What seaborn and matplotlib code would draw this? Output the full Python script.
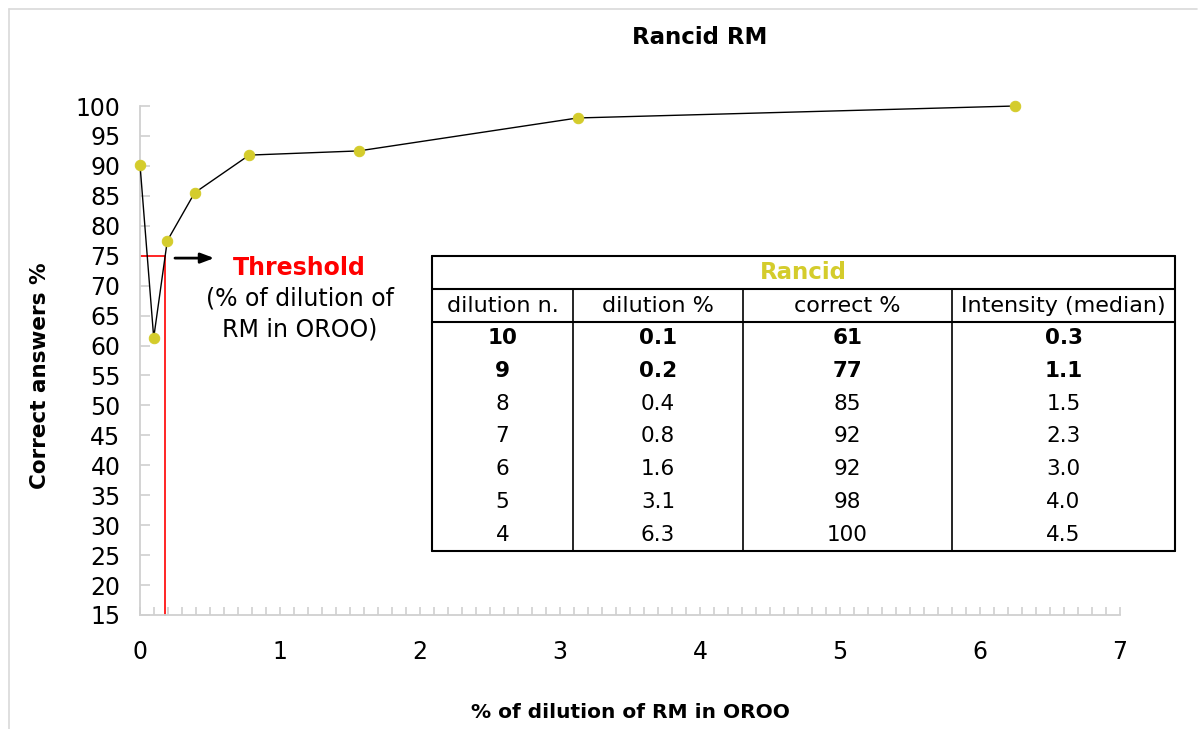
"""
Rancid RM - correct answers vs dilution
"""
import matplotlib
matplotlib.use("Agg")
import matplotlib.pyplot as plt
from matplotlib.lines import Line2D
import pandas as pd
import seaborn as sns

# Curve data
dilution_x = [0, 0.098, 0.195, 0.39, 0.78, 1.5625, 3.125, 6.25]
correct_y = [90.2, 61.3, 77.5, 85.5, 91.8, 92.5, 98, 100]

# Threshold
threshold_y = 75
threshold_x = 0.18

# Table data
table_title = "Rancid"
table_header = ["dilution n.", "dilution %", "correct %", "Intensity (median)"]
dilution_n = ["10", "9", "8", "7", "6", "5", "4"]
dilution_pct = ["0.1", "0.2", "0.4", "0.8", "1.6", "3.1", "6.3"]
correct_pct = ["61", "77", "85", "92", "92", "98", "100"]
intensity = ["0.3", "1.1", "1.5", "2.3", "3.0", "4.0", "4.5"]
bold_rows = 2

W, H = 1198, 729
MARKER = "#d4cc2c"
GRID = "#d0d0d0"

sns.set_style("white")
plt.rcParams['font.family'] = ['DejaVu Sans']
plt.rcParams['text.color'] = 'black'
plt.rcParams['axes.labelcolor'] = 'black'
plt.rcParams['xtick.color'] = 'black'
plt.rcParams['ytick.color'] = 'black'

fig = plt.figure(figsize=(W / 100, H / 100), dpi=100)


def fx(px):
    return px / W


def fy(py):
    return 1 - py / H


ax = fig.add_axes([fx(140), fy(615), fx(1120) - fx(140), fy(106) - fy(615)])

df = pd.DataFrame({"x": dilution_x, "y": correct_y})
sns.lineplot(data=df, x="x", y="y", ax=ax, color="black", linewidth=1,
             marker="o", markersize=7.5, markerfacecolor=MARKER,
             markeredgecolor=MARKER, sort=False, zorder=3, clip_on=False)

ax.set_xlim(0, 7)
ax.set_ylim(15, 100)
ax.set_xticks(range(0, 8))
ax.set_xticks([i / 10 for i in range(0, 71) if i % 10], minor=True)
ax.set_yticks(range(15, 101, 5))
ax.tick_params(axis="both", which="both", labelsize=17, color=GRID,
               labelcolor="black")
ax.tick_params(axis="x", which="both", direction="in", length=6, bottom=True,
               width=1.2)
ax.tick_params(axis="x", which="major", pad=18)
ax.tick_params(axis="y", direction="in", length=7, left=True, pad=14, width=1.2)
for side in ["top", "right"]:
    ax.spines[side].set_visible(False)
for side in ["left", "bottom"]:
    ax.spines[side].set_color(GRID)
    ax.spines[side].set_linewidth(1.3)
ax.set_xlabel("")
ax.set_ylabel("")

# threshold lines
ax.plot([0, threshold_x], [threshold_y, threshold_y], color="red", linewidth=1.2, zorder=2)
ax.plot([threshold_x, threshold_x], [15, threshold_y], color="red", linewidth=1.2,
        zorder=2, clip_on=False)
ax.annotate("", xy=(0.55, 74.6), xytext=(0.23, 74.6),
            arrowprops=dict(arrowstyle="-|>,head_length=0.8,head_width=0.3",
                            color="black", lw=2))
ax.text(0.66, 73.0, "Threshold", color="red", fontsize=17, fontweight="bold",
        ha="left", va="center")
ax.text(1.14, 69.8, "(% of dilution of\nRM in OROO)", fontsize=17,
        ha="center", va="top", linespacing=1.35)

# titles
fig.text(fx(700), fy(37), "Rancid RM", fontsize=16.5, fontweight="bold",
         ha="center", va="center")
fig.text(fx(630), fy(712), "% of dilution of RM in OROO", fontsize=14.5,
         fontweight="bold", ha="center", va="center")
fig.text(fx(40), fy(376), "Correct answers %", fontsize=15.5, fontweight="bold",
         ha="center", va="center", rotation=90)

# table
tl, tr = 432, 1175
tt, tb = 256, 551
col_edges = [432, 573, 743, 952, 1175]
y_title_bottom = 289
y_head_bottom = 322
row_h = (tb - y_head_bottom) / len(dilution_n)


def hline(py, x0, x1, lw):
    fig.add_artist(Line2D([fx(x0), fx(x1)], [fy(py), fy(py)], color="black",
                          linewidth=lw, transform=fig.transFigure))


def vline(px, y0, y1, lw):
    fig.add_artist(Line2D([fx(px), fx(px)], [fy(y0), fy(y1)], color="black",
                          linewidth=lw, transform=fig.transFigure))


hline(tt, tl, tr, 1.5)
hline(tb, tl, tr, 1.5)
hline(y_title_bottom, tl, tr, 1.5)
hline(y_head_bottom, tl, tr, 1.5)
vline(tl, tt, tb, 1.5)
vline(tr, tt, tb, 1.5)
for cx in col_edges[1:-1]:
    vline(cx, y_title_bottom, tb, 1.2)

fig.text(fx((tl + tr) / 2), fy((tt + y_title_bottom) / 2), table_title,
         color=MARKER, fontsize=16.5, fontweight="bold", ha="center", va="center")
centers = [(col_edges[i] + col_edges[i + 1]) / 2 for i in range(4)]
for c, h in zip(centers, table_header):
    fig.text(fx(c), fy((y_title_bottom + y_head_bottom) / 2), h, fontsize=16,
             ha="center", va="center")
columns = [dilution_n, dilution_pct, correct_pct, intensity]
for r in range(len(dilution_n)):
    yc = y_head_bottom + row_h * (r + 0.5)
    weight = "bold" if r < bold_rows else "normal"
    for c, col in zip(centers, columns):
        fig.text(fx(c), fy(yc), col[r], fontsize=15.5, fontweight=weight,
                 ha="center", va="center")

# chart area border
fig.add_artist(Line2D([fx(9), fx(1197)], [fy(9), fy(9)], color="#d9d9d9",
                      linewidth=1.2, transform=fig.transFigure))
fig.add_artist(Line2D([fx(9), fx(9)], [fy(9), fy(729)], color="#d9d9d9",
                      linewidth=1.2, transform=fig.transFigure))

fig.savefig("out.png", dpi=100)
